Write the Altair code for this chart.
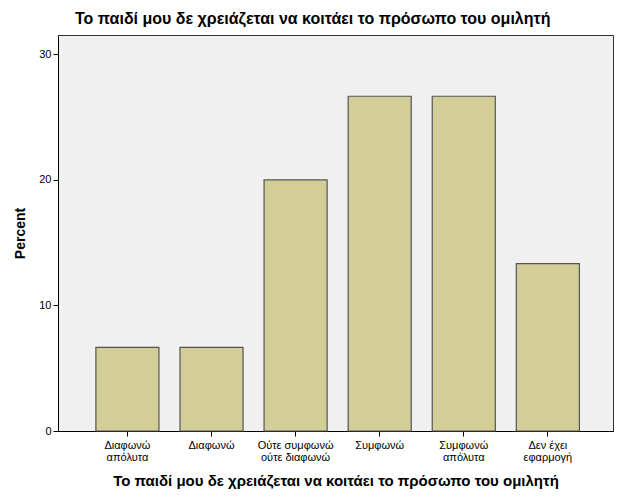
import altair as alt
import pandas as pd

categories = ["Διαφωνώ\nαπόλυτα", "Διαφωνώ", "Ούτε συμφωνώ\nούτε διαφωνώ", "Συμφωνώ", "Συμφωνώ\nαπόλυτα", "Δεν έχει\nεφαρμογή"]
percent = [6.67, 6.67, 20.0, 26.67, 26.67, 13.33]
title_text = "Το παιδί μου δε χρειάζεται να κοιτάει το πρόσωπο του ομιλητή"

df = pd.DataFrame({"cat": categories, "pct": percent})

FONT = "Liberation Sans"

chart = alt.Chart(df).mark_bar(
    color="#D3CE98", stroke="#555555", strokeWidth=1.2
).encode(
    x=alt.X("cat:N", sort=categories,
            scale=alt.Scale(paddingInner=0.25, paddingOuter=0.425, align=0.53),
            axis=alt.Axis(title=title_text, labelAngle=0,
                          labelExpr="split(datum.label, '\\n')",
                          labelFontSize=11, labelFont=FONT, labelColor="#000",
                          labelLineHeight=12, labelPadding=3,
                          tickSize=5, tickColor="#000", domainColor="#000",
                          titleFont=FONT, titleFontSize=15, titleFontWeight="bold",
                          titleColor="#000", titlePadding=11)),
    y=alt.Y("pct:Q", scale=alt.Scale(domain=[0, 31.55], nice=False),
            axis=alt.Axis(title="Percent", values=[0, 10, 20, 30], grid=False,
                          labelFontSize=11, labelFont=FONT, labelColor="#000",
                          tickSize=5, tickColor="#000", domainColor="#000",
                          labelPadding=2,
                          titleFont=FONT, titleFontSize=14, titleFontWeight="bold",
                          titleColor="#000", titlePadding=11)),
).properties(
    width=555, height=396,
    title=alt.TitleParams(title_text, font=FONT, fontSize=16, fontWeight="bold",
                          color="#000", anchor="start", frame="group", dx=17, offset=8),
    padding={"left": 58, "top": 35, "right": 13, "bottom": 70},
    autosize=alt.AutoSizeParams(type="none"),
    background="white",
).configure_view(fill="#F0F0F0", stroke="#333333", strokeWidth=1)

chart.save("out.html", embed_options={"renderer": "svg", "actions": False})
